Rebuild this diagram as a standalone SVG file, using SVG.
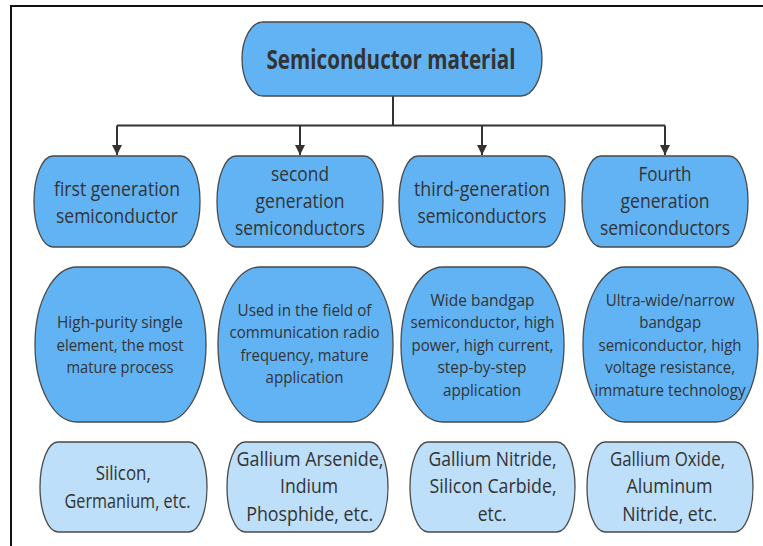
<svg xmlns="http://www.w3.org/2000/svg" width="763" height="546" viewBox="0 0 763 546">
<style>
.n{fill:#62B3F3;stroke:#4a4a4a;stroke-width:1.3}
.l{fill:#BDDFF9;stroke:#4a4a4a;stroke-width:1.3}
text{font-family:"Open Sans","Noto Sans",sans-serif;fill:#333;text-anchor:middle}
.t1{font-size:26px;font-weight:bold}
.t2{font-size:20px}
.t3{font-size:16.5px}
.c{fill:none;stroke:#333;stroke-width:2}
</style>
<defs>
<marker id="ah" viewBox="0 0 10 10" refX="10" refY="5" markerWidth="5" markerHeight="5" markerUnits="strokeWidth" orient="auto">
<path d="M0,0 L10,5 L0,10 z" fill="#333"/>
</marker>
</defs>
<rect width="763" height="546" fill="#fff"/>
<path d="M11,546 V6 H763" fill="none" stroke="#111" stroke-width="2"/>
<g id="connectors">
<path class="c" d="M393,96 V125.5"/>
<path class="c" d="M117,125.5 H665"/>
<path class="c" d="M117,125.5 V155" marker-end="url(#ah)"/>
<path class="c" d="M300,125.5 V155" marker-end="url(#ah)"/>
<path class="c" d="M482,125.5 V155" marker-end="url(#ah)"/>
<path class="c" d="M665,125.5 V155" marker-end="url(#ah)"/>
</g>
<g id="root">
<rect class="n" x="242" y="22" width="300" height="74" rx="21" ry="37"/>
<text class="t1" x="391" y="69" textLength="249" lengthAdjust="spacingAndGlyphs">Semiconductor material</text>
</g>
<g id="gen1">
<rect class="n" x="34" y="156" width="166" height="91" rx="19" ry="45"/>
<text class="t2" x="117" y="195.5" textLength="126" lengthAdjust="spacingAndGlyphs">first generation</text>
<text class="t2" x="117" y="222.5" textLength="122" lengthAdjust="spacingAndGlyphs">semiconductor</text>
</g>
<g id="gen2">
<rect class="n" x="217" y="156" width="166" height="91" rx="19" ry="45"/>
<text class="t2" x="300" y="181" textLength="58" lengthAdjust="spacingAndGlyphs">second</text>
<text class="t2" x="300" y="208" textLength="89" lengthAdjust="spacingAndGlyphs">generation</text>
<text class="t2" x="300" y="235" textLength="130" lengthAdjust="spacingAndGlyphs">semiconductors</text>
</g>
<g id="gen3">
<rect class="n" x="399" y="156" width="166" height="91" rx="19" ry="45"/>
<text class="t2" x="482" y="195.5" textLength="136" lengthAdjust="spacingAndGlyphs">third-generation</text>
<text class="t2" x="482" y="222.5" textLength="129" lengthAdjust="spacingAndGlyphs">semiconductors</text>
</g>
<g id="gen4">
<rect class="n" x="582" y="156" width="166" height="91" rx="19" ry="45"/>
<text class="t2" x="665" y="181" textLength="53" lengthAdjust="spacingAndGlyphs">Fourth</text>
<text class="t2" x="665" y="208" textLength="89" lengthAdjust="spacingAndGlyphs">generation</text>
<text class="t2" x="665" y="235" textLength="130" lengthAdjust="spacingAndGlyphs">semiconductors</text>
</g>
<g id="desc1">
<rect class="n" x="35" y="267" width="171" height="155" rx="42" ry="77"/>
<text class="t3" x="120" y="328" textLength="126" lengthAdjust="spacingAndGlyphs">High-purity single</text>
<text class="t3" x="120" y="350.5" textLength="127" lengthAdjust="spacingAndGlyphs">element, the most</text>
<text class="t3" x="120" y="372.5" textLength="107" lengthAdjust="spacingAndGlyphs">mature process</text>
</g>
<g id="desc2">
<rect class="n" x="218" y="267" width="175" height="155" rx="42" ry="77"/>
<text class="t3" x="304.5" y="316" textLength="134" lengthAdjust="spacingAndGlyphs">Used in the field of</text>
<text class="t3" x="304.5" y="338.3" textLength="150" lengthAdjust="spacingAndGlyphs">communication radio</text>
<text class="t3" x="304.5" y="360.7" textLength="128" lengthAdjust="spacingAndGlyphs">frequency, mature</text>
<text class="t3" x="304.5" y="383.3" textLength="78" lengthAdjust="spacingAndGlyphs">application</text>
</g>
<g id="desc3">
<rect class="n" x="401" y="267" width="163" height="155" rx="42" ry="77"/>
<text class="t3" x="482.5" y="306" textLength="104" lengthAdjust="spacingAndGlyphs">Wide bandgap</text>
<text class="t3" x="482.5" y="328.3" textLength="144" lengthAdjust="spacingAndGlyphs">semiconductor, high</text>
<text class="t3" x="482.5" y="350.7" textLength="142" lengthAdjust="spacingAndGlyphs">power, high current,</text>
<text class="t3" x="482" y="373.3" textLength="89" lengthAdjust="spacingAndGlyphs">step-by-step</text>
<text class="t3" x="482" y="395.7" textLength="78" lengthAdjust="spacingAndGlyphs">application</text>
</g>
<g id="desc4">
<rect class="n" x="583" y="267" width="175" height="155" rx="42" ry="77"/>
<text class="t3" x="670.3" y="306" textLength="129" lengthAdjust="spacingAndGlyphs">Ultra-wide/narrow</text>
<text class="t3" x="670.2" y="328.3" textLength="62" lengthAdjust="spacingAndGlyphs">bandgap</text>
<text class="t3" x="670" y="350.7" textLength="143" lengthAdjust="spacingAndGlyphs">semiconductor, high</text>
<text class="t3" x="670.2" y="373.3" textLength="130" lengthAdjust="spacingAndGlyphs">voltage resistance,</text>
<text class="t3" x="670" y="395.7" textLength="151" lengthAdjust="spacingAndGlyphs">immature technology</text>
</g>
<g id="mat1">
<rect class="l" x="40" y="442" width="167" height="90" rx="18" ry="45"/>
<text class="t2" x="123.3" y="480" textLength="55" lengthAdjust="spacingAndGlyphs">Silicon,</text>
<text class="t2" x="127.5" y="507.5" textLength="126" lengthAdjust="spacingAndGlyphs">Germanium, etc.</text>
</g>
<g id="mat2">
<rect class="l" x="227" y="442" width="161" height="90" rx="18" ry="45"/>
<text class="t2" x="310" y="466" textLength="147" lengthAdjust="spacingAndGlyphs">Gallium Arsenide,</text>
<text class="t2" x="309" y="493.3" textLength="58" lengthAdjust="spacingAndGlyphs">Indium</text>
<text class="t2" x="309.7" y="520.7" textLength="127" lengthAdjust="spacingAndGlyphs">Phosphide, etc.</text>
</g>
<g id="mat3">
<rect class="l" x="410" y="442" width="165" height="90" rx="18" ry="45"/>
<text class="t2" x="492.5" y="466" textLength="128" lengthAdjust="spacingAndGlyphs">Gallium Nitride,</text>
<text class="t2" x="493" y="493.3" textLength="127" lengthAdjust="spacingAndGlyphs">Silicon Carbide,</text>
<text class="t2" x="492.2" y="520.7" textLength="29" lengthAdjust="spacingAndGlyphs">etc.</text>
</g>
<g id="mat4">
<rect class="l" x="587" y="442" width="166" height="90" rx="18" ry="45"/>
<text class="t2" x="667.5" y="466" textLength="115" lengthAdjust="spacingAndGlyphs">Gallium Oxide,</text>
<text class="t2" x="669.5" y="493.3" textLength="86" lengthAdjust="spacingAndGlyphs">Aluminum</text>
<text class="t2" x="669.7" y="520.7" textLength="95" lengthAdjust="spacingAndGlyphs">Nitride, etc.</text>
</g>
</svg>
